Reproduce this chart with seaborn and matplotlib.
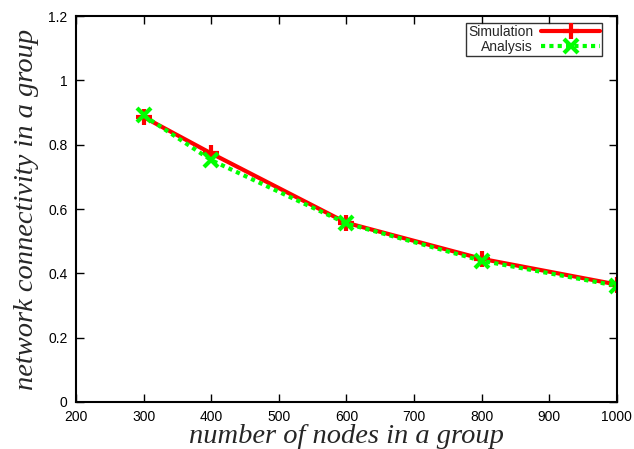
import pandas as pd
import matplotlib
matplotlib.use('Agg')
import matplotlib.pyplot as plt
import seaborn as sns

# Data
nodes = [300, 400, 600, 800, 1000]
simulation = [0.886, 0.773, 0.557, 0.445, 0.365]
analysis = [0.891, 0.752, 0.555, 0.439, 0.361]

df = pd.DataFrame({
    'nodes': nodes * 2,
    'conn': simulation + analysis,
    'series': ['Simulation'] * len(nodes) + ['Analysis'] * len(nodes),
})

sns.set_style('ticks')
plt.rcParams['font.family'] = ['Liberation Sans', 'DejaVu Sans']

fig = plt.figure(figsize=(6.34, 4.49), dpi=100)
ax = fig.add_axes([0.12, 0.105, 0.853, 0.859])

sns.lineplot(data=df[df['series'] == 'Simulation'], x='nodes', y='conn', ax=ax,
             color='#ff0000', linewidth=3, marker='+', markersize=11,
             markeredgewidth=3, markeredgecolor='#ff0000', label='Simulation')
sns.lineplot(data=df[df['series'] == 'Analysis'], x='nodes', y='conn', ax=ax,
             color='#00ff00', linewidth=3, dashes=(1, 1), marker='x', markersize=10,
             markeredgewidth=3, markeredgecolor='#00ff00', label='Analysis')

ax.set_xlim(200, 1000)
ax.set_ylim(0, 1.2)
ax.set_xticks(range(200, 1001, 100))
ax.set_yticks([0, 0.2, 0.4, 0.6, 0.8, 1.0, 1.2])
ax.set_yticklabels(['0', '0.2', '0.4', '0.6', '0.8', '1', '1.2'])
ax.tick_params(direction='in', length=6, width=1, top=True, right=True,
               labelsize=10, colors='black', pad=6)
for s in ax.spines.values():
    s.set_visible(True)
    s.set_linewidth(1.5)
    s.set_color('black')

ax.set_xlabel('number of nodes in a group', fontsize=20.5, style='italic',
              family=['Liberation Serif'], labelpad=0)
ax.set_ylabel('network connectivity in a group', fontsize=20.5, style='italic',
              family=['Liberation Serif'], labelpad=7)

leg = ax.legend(loc='upper right', markerfirst=False, fontsize=10,
                frameon=True, fancybox=False, borderpad=0.15, labelspacing=0.05,
                handlelength=4.2, handletextpad=0.6, borderaxespad=0.5,
                bbox_to_anchor=(0.985, 1.0))
leg.get_frame().set_edgecolor('black')
leg.get_frame().set_linewidth(1)
for t in leg.get_texts():
    t.set_ha('right')

fig.savefig('out.png', dpi=100)
